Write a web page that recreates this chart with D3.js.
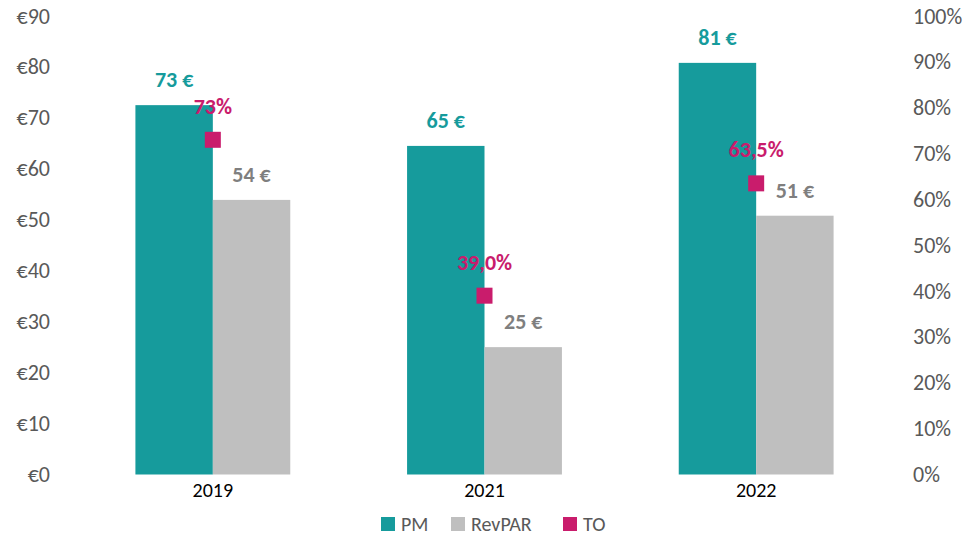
<!DOCTYPE html>
<html>
<head>
<meta charset="utf-8">
<script src="https://cdn.jsdelivr.net/npm/d3@7"></script>
<style>
	body { margin: 0; background: #fff; }
	svg text { font-family: Carlito, Lato, "Open Sans", sans-serif; }
</style>
</head>
<body>
<div id="chart"></div>
<script>
// Chart values
const years = ["2019", "2021", "2022"];
const pmValues = [72.5, 64.5, 80.8];
const revparValues = [53.9, 25.0, 50.8];
const toValues = [0.73, 0.39, 0.635];
const toLabels = ["73%", "39,0%", "63,5%"];
const euroTicks = [0, 10, 20, 30, 40, 50, 60, 70, 80, 90];
const pctTicks = [0, 0.1, 0.2, 0.3, 0.4, 0.5, 0.6, 0.7, 0.8, 0.9, 1];
const seriesNames = ["PM", "RevPAR", "TO"];

const width = 969, height = 536;
const colors = { PM: "#169b9c", RevPAR: "#bfbfbf", TO: "#c91c6c" };

let svg = d3.select("#chart").append("svg")
	.attr("width", width)
	.attr("height", height);

// Scales
let x0 = d3.scaleBand()
	.domain(years)
	.range([77, 892])
	.paddingInner(0.43)
	.paddingOuter(0.215);

let x1 = d3.scaleBand()
	.domain(["PM", "RevPAR"])
	.range([0, x0.bandwidth()]);

let yLeft = d3.scaleLinear().domain([0, 90]).range([474.5, 16]);
let yRight = d3.scaleLinear().domain([0, 1]).range([474.5, 16]);

// Left axis (euro)
let gLeft = svg.append("g")
	.attr("transform", "translate(50,0)")
	.call(d3.axisLeft(yLeft).tickValues(euroTicks).tickSize(0).tickPadding(0)
		.tickFormat(d => "€" + d));
gLeft.select(".domain").remove();
gLeft.selectAll("text")
	.attr("fill", "#595959")
	.style("font-size", "22px");

// Right axis (percent)
let gRight = svg.append("g")
	.attr("transform", "translate(913,0)")
	.call(d3.axisRight(yRight).tickValues(pctTicks).tickSize(0).tickPadding(0)
		.tickFormat(d => Math.round(d * 100) + "%"));
gRight.select(".domain").remove();
gRight.selectAll("text")
	.attr("fill", "#595959")
	.style("font-size", "22px");

// Category axis
let gBottom = svg.append("g")
	.attr("transform", "translate(0,474.5)")
	.call(d3.axisBottom(x0).tickSize(0).tickPadding(8));
gBottom.select(".domain").remove();
gBottom.selectAll("text")
	.attr("fill", "#000")
	.style("font-size", "20px");

// Bars
let rows = years.map((y, i) => ({
	year: y,
	PM: pmValues[i],
	RevPAR: revparValues[i],
	TO: toValues[i],
	toLabel: toLabels[i]
}));

let groups = svg.append("g").selectAll("g")
	.data(rows)
	.enter().append("g")
	.attr("transform", d => "translate(" + x0(d.year) + ",0)");

groups.selectAll("rect")
	.data(d => ["PM", "RevPAR"].map(k => ({ key: k, value: d[k] })))
	.enter().append("rect")
	.attr("x", d => x1(d.key))
	.attr("y", d => yLeft(d.value))
	.attr("width", x1.bandwidth())
	.attr("height", d => yLeft(0) - yLeft(d.value))
	.attr("fill", d => colors[d.key]);

// Bar labels
groups.selectAll("text.bar-label")
	.data(d => ["PM", "RevPAR"].map(k => ({ key: k, value: d[k] })))
	.enter().append("text")
	.attr("class", "bar-label")
	.attr("x", d => x1(d.key) + x1.bandwidth() / 2)
	.attr("y", d => yLeft(d.value) - 18)
	.attr("text-anchor", "middle")
	.attr("fill", d => d.key === "PM" ? "#169b9c" : "#7f7f7f")
	.style("font-size", "22px")
	.style("font-weight", "bold")
	.text(d => Math.round(d.value) + " €");

// TO markers
let msize = 16;
svg.append("g").selectAll("rect")
	.data(rows)
	.enter().append("rect")
	.attr("x", d => x0(d.year) + x0.bandwidth() / 2 - msize / 2)
	.attr("y", d => yRight(d.TO) - msize / 2)
	.attr("width", msize)
	.attr("height", msize)
	.attr("fill", colors.TO);

svg.append("g").selectAll("text")
	.data(rows)
	.enter().append("text")
	.attr("x", d => x0(d.year) + x0.bandwidth() / 2)
	.attr("y", d => yRight(d.TO) - 26)
	.attr("text-anchor", "middle")
	.attr("fill", colors.TO)
	.style("font-size", "22px")
	.style("font-weight", "bold")
	.text(d => d.toLabel);

// Legend
let legendX = [381, 451, 563];
let legend = svg.append("g").selectAll("g")
	.data(seriesNames)
	.enter().append("g")
	.attr("transform", (d, i) => "translate(" + legendX[i] + ",517)");

legend.append("rect")
	.attr("width", 14)
	.attr("height", 14)
	.attr("fill", d => colors[d]);

legend.append("text")
	.attr("x", 20)
	.attr("y", 7)
	.attr("dy", "0.35em")
	.attr("fill", "#595959")
	.style("font-size", "20px")
	.text(d => d);
</script>
</body>
</html>
